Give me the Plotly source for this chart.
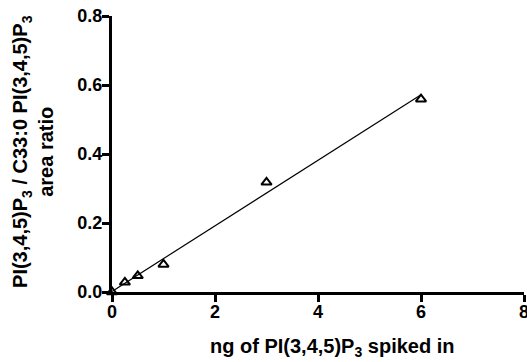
import numpy as np
import plotly.graph_objects as go

ng_spiked = [0, 0.25, 0.5, 1, 3, 6]
area_ratio = [0.0, 0.028, 0.047, 0.080, 0.318, 0.559]
x_ticks = [0, 2, 4, 6, 8]
y_ticks = [0.0, 0.2, 0.4, 0.6, 0.8]

slope, intercept = np.polyfit(ng_spiked, area_ratio, 1)
fit_x = [min(ng_spiked), max(ng_spiked)]
fit_y = [slope * v + intercept for v in fit_x]

FONT = "Liberation Sans, Arial, sans-serif"

fig = go.Figure()
fig.add_trace(go.Scatter(x=fit_x, y=fit_y, mode="lines",
                         line=dict(color="black", width=1.2),
                         hoverinfo="skip", cliponaxis=False))
fig.add_trace(go.Scatter(x=ng_spiked, y=area_ratio, mode="markers",
                         marker=dict(symbol="triangle-up-open", size=9,
                                     color="black", line=dict(width=2, color="black")),
                         cliponaxis=False))

axis_common = dict(showline=True, linewidth=3, linecolor="black",
                   ticks="outside", ticklen=7, tickwidth=3, tickcolor="black",
                   showgrid=False, zeroline=False, automargin=False,
                   ticklabeloverflow="allow",
                   tickfont=dict(family=FONT, size=18, color="black", weight="bold"))

fig.update_layout(
    width=527, height=362,
    margin=dict(l=112, r=3, t=16, b=70),
    paper_bgcolor="white", plot_bgcolor="white",
    showlegend=False,
    xaxis=dict(range=[0, 8], tickvals=x_ticks, ticklabelstandoff=-6, **axis_common),
    yaxis=dict(range=[0, 0.8], tickvals=y_ticks, tickformat=".1f",
               ticklabelstandoff=-4, **axis_common),
    font=dict(family=FONT, color="black"),
    annotations=[
        dict(text="<b>ng of PI(3,4,5)P<sub>3</sub> spiked in</b>",
             x=0.535, y=-0.2, xref="paper", yref="paper",
             xanchor="center", yanchor="middle", showarrow=False,
             font=dict(family=FONT, size=20, color="black")),
        dict(text="<b>PI(3,4,5)P<sub>3</sub> / C33:0 PI(3,4,5)P<sub>3</sub><br>area ratio</b>",
             x=-0.19, y=0.51, xref="paper", yref="paper",
             xanchor="center", yanchor="middle", showarrow=False, textangle=-90,
             font=dict(family=FONT, size=20, color="black")),
    ],
)

fig.write_html("out.html")
